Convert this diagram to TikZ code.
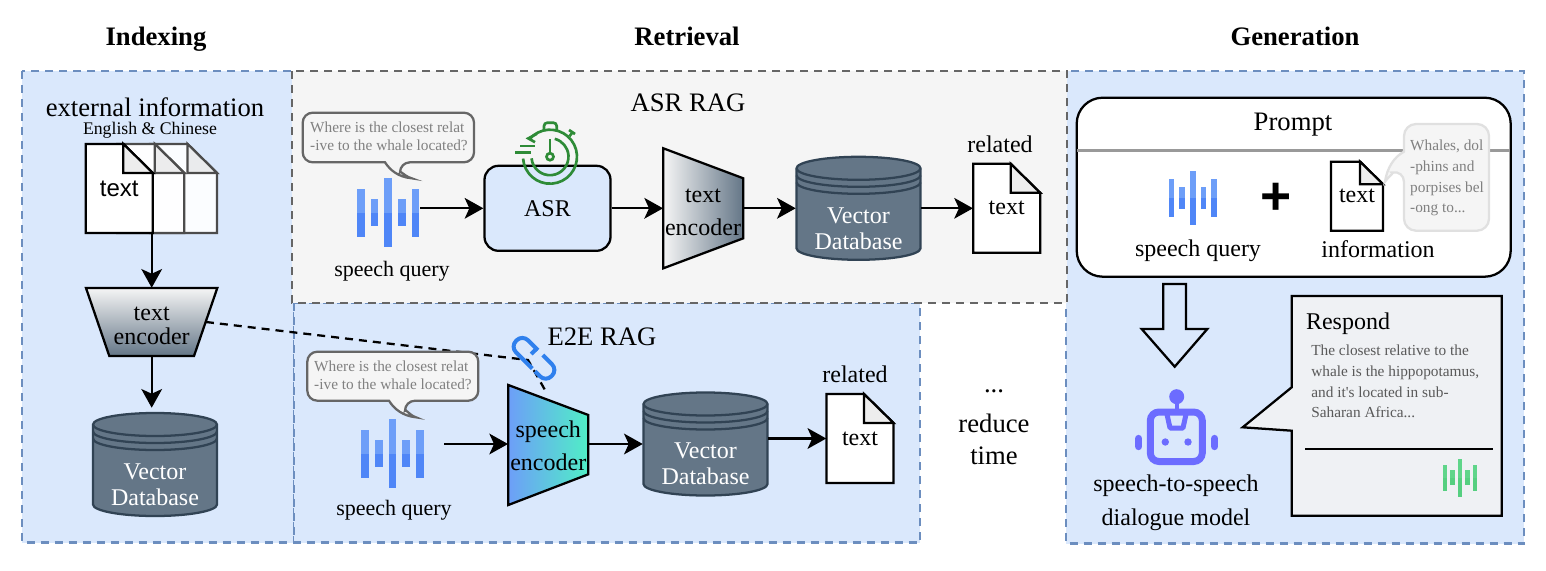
\documentclass[tikz,border=0pt]{standalone}
\usepackage{fontspec}
\setmainfont{Liberation Serif}
\setsansfont{Liberation Sans}
\usepackage{xcolor}
\usetikzlibrary{arrows.meta, positioning, calc}

\newcommand{\pxu}{0.75pt}
\definecolor{panelblue}{HTML}{DAE8FC}
\definecolor{paneledge}{HTML}{6C8EBF}
\definecolor{panelgray}{HTML}{F5F5F5}
\definecolor{grayedge}{HTML}{666666}
\definecolor{dbfill}{HTML}{647687}
\definecolor{dbedge}{HTML}{314354}
\definecolor{wavetop}{HTML}{6D9EF8}
\definecolor{wavelow}{HTML}{4F86F7}
\definecolor{mint}{HTML}{50EEC6}
\definecolor{greentop}{HTML}{5FD58A}
\definecolor{greenlow}{HTML}{55CF80}
\definecolor{watchgreen}{HTML}{2E8B37}
\definecolor{linkblue}{HTML}{2F80ED}
\definecolor{robotblue}{HTML}{6C6CFF}
\definecolor{bubbletext}{HTML}{808080}
\definecolor{respondfill}{HTML}{EFF1F4}

\tikzset{
  arrow/.style={-{Stealth[length=14pt,width=15.5pt,inset=3.5pt]}, line width=1.7pt},
  bluepanel/.style={fill=panelblue, draw=paneledge, line width=1.7pt, dash pattern=on 6pt off 4.5pt},
  graypanel/.style={fill=panelgray, draw=grayedge, line width=1.7pt, dash pattern=on 6pt off 4.5pt},
  title/.style={font=\fontsize{20}{24}\selectfont\bfseries, inner sep=0pt},
  big/.style={font=\fontsize{20}{24}\selectfont, inner sep=0pt},
  lab/.style={font=\fontsize{18}{22}\selectfont, inner sep=0pt, align=center},
  query/.style={font=\fontsize{16.5}{20}\selectfont, inner sep=0pt},
  bubbletxt/.style={font=\fontsize{11.5}{13.5}\selectfont, text=bubbletext, inner sep=0pt, align=left},
  bubble/.style={fill=panelgray, draw=grayedge, line width=1.7pt},
  encoder/.style={draw=black, line width=1.7pt},
  watch/.style={draw=watchgreen, line width=2pt},
  robot/.style={draw=robotblue, line width=5.25pt},
  pics/wave/.style 2 args={code={
    \foreach \bx/\bh in {-27.3/24,-13.7/13.7,0/34.5,13.7/13.7,27.3/24}{
      \fill[#1] (\bx-3.8,-\bh) rectangle (\bx+3.8,0);
      \fill[#2] (\bx-3.8,0) rectangle (\bx+3.8,\bh);
    }
  }},
  pics/doc/.style n args={3}{code={
    \draw[draw=#1, fill=#2, line width=1.7pt] (-33.5,-44.5) -- (4,-44.5) -- (33.5,-15.5) -- (33.5,44.5) -- (-33.5,44.5) -- cycle;
    \draw[draw=#1, fill=#2!93!black, line width=1.7pt] (4,-44.5) -- (4,-15.5) -- (33.5,-15.5) -- cycle;
    \node[lab, minimum width=67*\pxu, minimum height=89*\pxu] (-box) at (0,0) {#3};
  }},
  pics/vecdb/.style={code={
    \draw[fill=dbfill, draw=dbedge, line width=1.7pt] (-62,-40) arc[start angle=180, end angle=360, x radius=62, y radius=11.5] -- (62,40) arc[start angle=0, end angle=180, x radius=62, y radius=11.5] -- cycle;
    \foreach \ry in {0,7,14}{
      \draw[draw=dbedge, line width=1.7pt] (-62,-40+\ry) arc[start angle=180, end angle=0, x radius=62, y radius=11.5];
    }
    \node[minimum width=125*\pxu, minimum height=103*\pxu, inner sep=0pt] (-box) at (0,0) {};
    \node[lab, text=white, font=\fontsize{18}{19.5}\selectfont] (-txt) at (0,20) {Vector\\Database};
  }}
}

\begin{document}
\begin{tikzpicture}[x=0.75pt, y=-0.75pt]
\useasboundingbox (0,0) rectangle (1546,571);

% Panels
\draw[bluepanel] (22,71) rectangle (294,542.5);
\draw[bluepanel] (1066,71) rectangle (1524,543.5);
\draw[bluepanel] (294,303) rectangle (920,542.5);
\draw[graypanel] (292,71) rectangle (1067,303);

% Titles
\node[title] (tindex) at (156,39) {Indexing};
\node[title] (tretr) at (687,36) {Retrieval};
\node[title] (tgen) at (1295,36) {Generation};

% Indexing
\node[big, text depth=0pt, text height=11pt] (extinfo) at (155,109.5) {external information};
\node[font=\fontsize{13.3}{15}\selectfont, inner sep=0pt] (langs) at (150,130) {English \& Chinese};
\pic (stackc) at (183.5,188.4) {doc={black!70}{white!90!panelblue}{}};
\pic (stackb) at (150.8,188.4) {doc={black!70}{white!96!panelblue}{}};
\pic (stack) at (119.3,188.4) {doc={black}{white}{\sffamily text}};
\shade[top color=panelgray, bottom color=dbfill] (86,288) -- (217.3,288) -- (194,356) -- (109.3,356) -- cycle;
\draw[encoder] (86,288) -- (217.3,288) -- (194,356) -- (109.3,356) -- cycle;
\node[minimum width=108*\pxu, minimum height=68*\pxu, inner sep=0pt] (enctxt) at (151.7,322) {};
\node[lab, font=\fontsize{18}{18}\selectfont] (enctxtlab) at (151.7,326) {text\\encoder};
\pic (dbidx) at (155,464.5) {vecdb};
\draw[arrow] (enctxt.north |- stack-box.south) -- (enctxt.north);
\draw[arrow, shorten >=3.75pt] (enctxt.south) -- (enctxt.south |- dbidx-box.north);

% ASR RAG
\node[big] (asrrag) at (688,103) {ASR RAG};
\draw[bubble, rounded corners=7.5pt] (388,112.7) -- (474,112.7) -- (474,162.3) -- (400,162.3) [sharp corners] .. controls (400,170) and (404,176) .. (411.7,178.3) .. controls (398,177) and (390,170) .. (385,162.3) [rounded corners=7.5pt] -- (302.7,162.3) -- (302.7,112.7) -- cycle;
\node[bubbletxt] (askasr) at (389,136) {Where is the closest relat\\-ive to the whale located?};
\pic at (388,212.7) {wave={wavetop}{wavelow}};
\coordinate (waveasr) at (420,208.3);
\node[query] (sqasr) at (392,271) {speech query};
\node[lab, draw=black, fill=panelblue, line width=1.7pt, rounded corners=10.5pt, minimum width=126*\pxu, minimum height=85*\pxu] (asr) at (547.5,208.3) {ASR};
\begin{scope}[shift={(550,156.7)}]
  \draw[watch] (176:27) arc[start angle=176, end angle=-140, radius=27];
  \draw[watch] (-13,-23) -- (-21.7,-18.3) -- (-15,-14.5);
  \draw[watch] (175:18.5) arc[start angle=175, end angle=-75, radius=18.5];
  \draw[watch] (0,-17.3) -- (0,-3.5);
  \draw[watch] (0,0) circle[radius=3.5];
  \draw[watch, rounded corners=2.5pt] (-6,-26.5) -- (-6,-34) -- (6.7,-34) -- (6.7,-26.5);
  \draw[watch] (19.5,-20.5) -- (23,-25);
  \draw[watch] (19,-26.7) -- (25,-22.7);
  \draw[watch] (-30,-10.7) -- (-15,-10.7);
  \draw[watch] (-35,-4.3) -- (-19.3,-4.3);
\end{scope}
\shade[left color=panelgray, right color=dbfill] (663.3,148.3) -- (743.3,178.3) -- (743.3,238.3) -- (663.3,268.3) -- cycle;
\draw[encoder] (663.3,148.3) -- (743.3,178.3) -- (743.3,238.3) -- (663.3,268.3) -- cycle;
\node[minimum width=80*\pxu, minimum height=60*\pxu, inner sep=0pt] (encasr) at (703.3,208.3) {};
\node[lab, font=\fontsize{18}{24.75}\selectfont] (encasrtxt) at (703,212) {text\\encoder};
\pic (dbasr) at (858.5,208.3) {vecdb};
\pic (relasr) at (1006.7,208.3) {doc={black}{white}{text}};
\node[lab] (relatedasr) at (1000,144) {related};
\draw[arrow] (waveasr) -- (asr);
\draw[arrow] (asr) -- (encasr);
\draw[arrow] (encasr) -- (dbasr-box);
\draw[arrow] (dbasr-box) -- (relasr-box);

% E2E RAG
\node[big] (e2erag) at (602,337) {E2E RAG};
\coordinate (linkturn) at (528,360);
\coordinate (encnotch) at (546.7,393);
\draw[line width=1.7pt, dash pattern=on 6pt off 4.5pt] (enctxt.east) -- (linkturn) -- (encnotch);
\draw[bubble, rounded corners=7.5pt] (393,351.7) -- (478.3,351.7) -- (478.3,400.7) -- (405,400.7) [sharp corners] .. controls (405,408) and (409,415) .. (416,417.3) .. controls (403,416) and (394,409) .. (389,400.7) [rounded corners=7.5pt] -- (307.3,400.7) -- (307.3,351.7) -- cycle;
\node[bubbletxt] (aske2e) at (393,375) {Where is the closest relat\\-ive to the whale located?};
\begin{scope}[shift={(534,358.3)}, rotate=-45]
  \draw[linkblue, line width=3pt, rounded corners=6pt] (-3,-8.5) -- (-25,-8.5) -- (-25,8.5) -- (6,8.5);
  \draw[linkblue, line width=3pt, rounded corners=6pt] (4,-8.5) -- (25,-8.5) -- (25,8.5) -- (10,8.5);
  \draw[linkblue, line width=3pt] (-5,-8.5) -- (-5,-1);
\end{scope}
\pic at (392.5,453.5) {wave={wavetop}{wavelow}};
\coordinate (wavee2e) at (444,444);
\node[query] (sqe2e) at (394,510) {speech query};
\shade[left color=wavetop, right color=mint] (508.3,385) -- (588.3,415) -- (588.3,474.3) -- (508.3,505) -- cycle;
\draw[encoder] (508.3,385) -- (588.3,415) -- (588.3,474.3) -- (508.3,505) -- cycle;
\node[lab, font=\fontsize{18}{25}\selectfont, minimum width=80*\pxu, minimum height=60*\pxu] (encspeech) at (548.3,446) {speech\\encoder};
\pic (dbe2e) at (705.5,444) {vecdb};
\pic (rele2e) at (860,438.5) {doc={black}{white}{text}};
\node[lab] (relatede2e) at (855,374) {related};
\draw[arrow] (wavee2e) -- (encspeech.west |- wavee2e);
\draw[arrow] (encspeech.east |- dbe2e-box) -- (dbe2e-box);
\draw[arrow] (dbe2e-box.east |- rele2e-box) -- (rele2e-box);

% reduce time
\node[big] (dots) at (994,391) {...};
\node[big] (reduce) at (994,423) {reduce};
\node[big] (rtime) at (994,456) {time};

% Generation
\node[draw=black, fill=white, line width=1.7pt, rounded corners=19.5pt, minimum width=434*\pxu, minimum height=179*\pxu, inner sep=0pt] (promptbox) at (1293.7,187.2) {};
\draw[draw=black!40, line width=2pt] (1077,150.7) -- (1510,150.7);
\node[big] (prompt) at (1293,125) {Prompt};
\pic[scale=0.78] at (1192.8,198) {wave={wavetop}{wavelow}};
\node[font=\fontsize{40}{40}\selectfont\sffamily\bfseries, inner sep=0pt] (plus) at (1276,199) {+};
\pic[scale=0.775] (infodoc) at (1357,196.2) {doc={black}{white}{\raisebox{-2pt}{text}}};
\draw[fill=panelgray, draw=black!12, line width=1.7pt, rounded corners=9pt] (1404,151.7) -- (1404,124) -- (1489,124) -- (1489,230.7) -- (1404,230.7) -- (1404,170) [sharp corners] .. controls (1395,172) and (1389,176) .. (1385,181.7) .. controls (1387,168) and (1394,157) .. cycle;
\node[bubbletxt, font=\fontsize{11.5}{15.6}\selectfont] (infotxt) at (1447,178) {Whales, dol\\-phins and\\porpises bel\\-ong to...};
\node[lab] (sqgen) at (1198,251) {speech query};
\node[lab] (information) at (1378,249) {information};
\draw[draw=black, line width=1.7pt] (1163.3,284) -- (1186,284) -- (1186,329) -- (1207.3,329) -- (1174.7,366.7) -- (1141.7,329) -- (1163.3,329) -- cycle;

% Robot icon
\fill[robotblue] (1176.7,396.7) circle[radius=7.5];
\fill[robotblue] (1174.7,400) rectangle (1178.7,412);
\draw[robot, rounded corners=6.5pt] (1150.3,412) rectangle (1202.3,461.5);
\draw[draw=robotblue, line width=3.75pt, line join=round] (1166.5,412) -- (1170,428) -- (1183,428) -- (1186.5,412);
\fill[robotblue] (1165.3,442) circle[radius=3.7];
\fill[robotblue] (1188,442) circle[radius=3.7];
\draw[draw=robotblue, line width=5.5pt, line cap=round] (1138.7,438.5) -- (1138.7,446.5);
\draw[draw=robotblue, line width=5.5pt, line cap=round] (1214.7,438.5) -- (1214.7,446.5);
\node[lab, font=\fontsize{18}{25.5}\selectfont] (s2s) at (1176,503) {speech-to-speech\\dialogue model};

% Respond
\draw[fill=respondfill, draw=black, line width=1.7pt] (1291.7,296) -- (1501.7,296) -- (1501.7,515.7) -- (1291.7,515.7) -- (1291.7,430.7) -- (1242.7,427.3) -- (1291.7,387.3) -- cycle;
\node[lab] (respond) at (1348,323.5) {Respond};
\node[bubbletxt, font=\fontsize{11.5}{15.5}\selectfont, text=black!65, anchor=north west] (answer) at (1311,345) {The closest relative to the\\whale is the hippopotamus,\\and it\textquotesingle s located in sub-\\Saharan Africa...};
\draw[line width=1.7pt] (1305,449.3) -- (1492.7,449.3);
\pic[scale=0.55] at (1460,477.8) {wave={greentop}{greenlow}};

\end{tikzpicture}
\end{document}
